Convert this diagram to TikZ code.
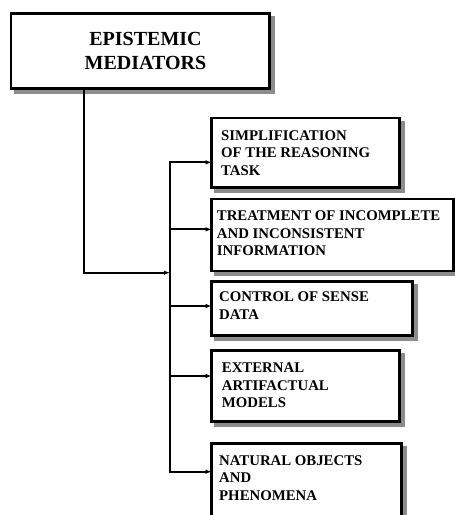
\documentclass[tikz,border=0pt]{standalone}
\usepackage{fontspec}
\setmainfont{Liberation Serif}
\usetikzlibrary{arrows.meta,fit,backgrounds}
\definecolor{shd}{RGB}{140,140,140}
\begin{document}
\begin{tikzpicture}[x=1pt,y=-1pt,
  box/.style={draw, line width=2.7pt, fill=white, inner sep=0pt, outer sep=0pt},
  shadowbox/.style={draw=shd, fill=shd, line width=2.7pt},
  conn/.style={line width=2pt, line cap=rect},
  arr/.style={line width=2pt, -{Latex[length=6pt,width=4.5pt]}},
  bigtext/.style={font=\fontsize{20}{23.7}\selectfont\bfseries, align=center, inner sep=0pt, anchor=north},
  small/.style={font=\fontsize{14.8}{17.6}\selectfont\bfseries, align=left, inner sep=0pt, anchor=north west},
]
\useasboundingbox (0,0) rectangle (455,515);

\node[box, fit={(11,13.2) (269.7,88.7)}] (main) {};
\node[box, fit={(211.7,118) (399.7,187.2)}] (b1) {};
\node[box, fit={(211.7,199) (453.3,271)}] (b2) {};
\node[box, fit={(211.7,281.3) (412.3,335.3)}] (b3) {};
\node[box, fit={(211.7,350.7) (399.7,421.3)}] (b4) {};
\node[box, fit={(211.7,443.7) (401.7,525)}] (b5) {};

\begin{scope}[on background layer]
  \foreach \n in {main,b1,b2,b3,b4,b5}
    \draw[shadowbox] ([shift={(4,4)}]\n.north west) rectangle ([shift={(4,4)}]\n.south east);
\end{scope}

\node[bigtext] (mt) at (145.5,32.3) {EPISTEMIC\\MEDIATORS};
\node[small] (t1) at (221,130) {SIMPLIFICATION\\OF THE REASONING\\TASK};
\node[small] (t2) at (216.7,210.7) {TREATMENT OF INCOMPLETE\\AND INCONSISTENT\\INFORMATION};
\node[small] (t3) at (219,291.7) {CONTROL OF SENSE\\DATA};
\node[small] (t4) at (221.7,362.7) {EXTERNAL\\ARTIFACTUAL\\MODELS};
\node[small] (t5) at (219,455) {NATURAL OBJECTS\\AND\\PHENOMENA};

\coordinate (drop) at (84,0);
\coordinate (join) at (170,272.7);
\coordinate (r1) at (170,162.3);
\coordinate (r2) at (170,229.3);
\coordinate (r3) at (170,306);
\coordinate (r4) at (170,376);
\coordinate (r5) at (170,471.7);

\draw[arr] (main.south -| drop) |- (join);
\draw[conn] (r1) -- (r5);
\foreach \i in {1,...,5}
  \draw[arr] (r\i) -- (b\i.west |- r\i);
\end{tikzpicture}
\end{document}
